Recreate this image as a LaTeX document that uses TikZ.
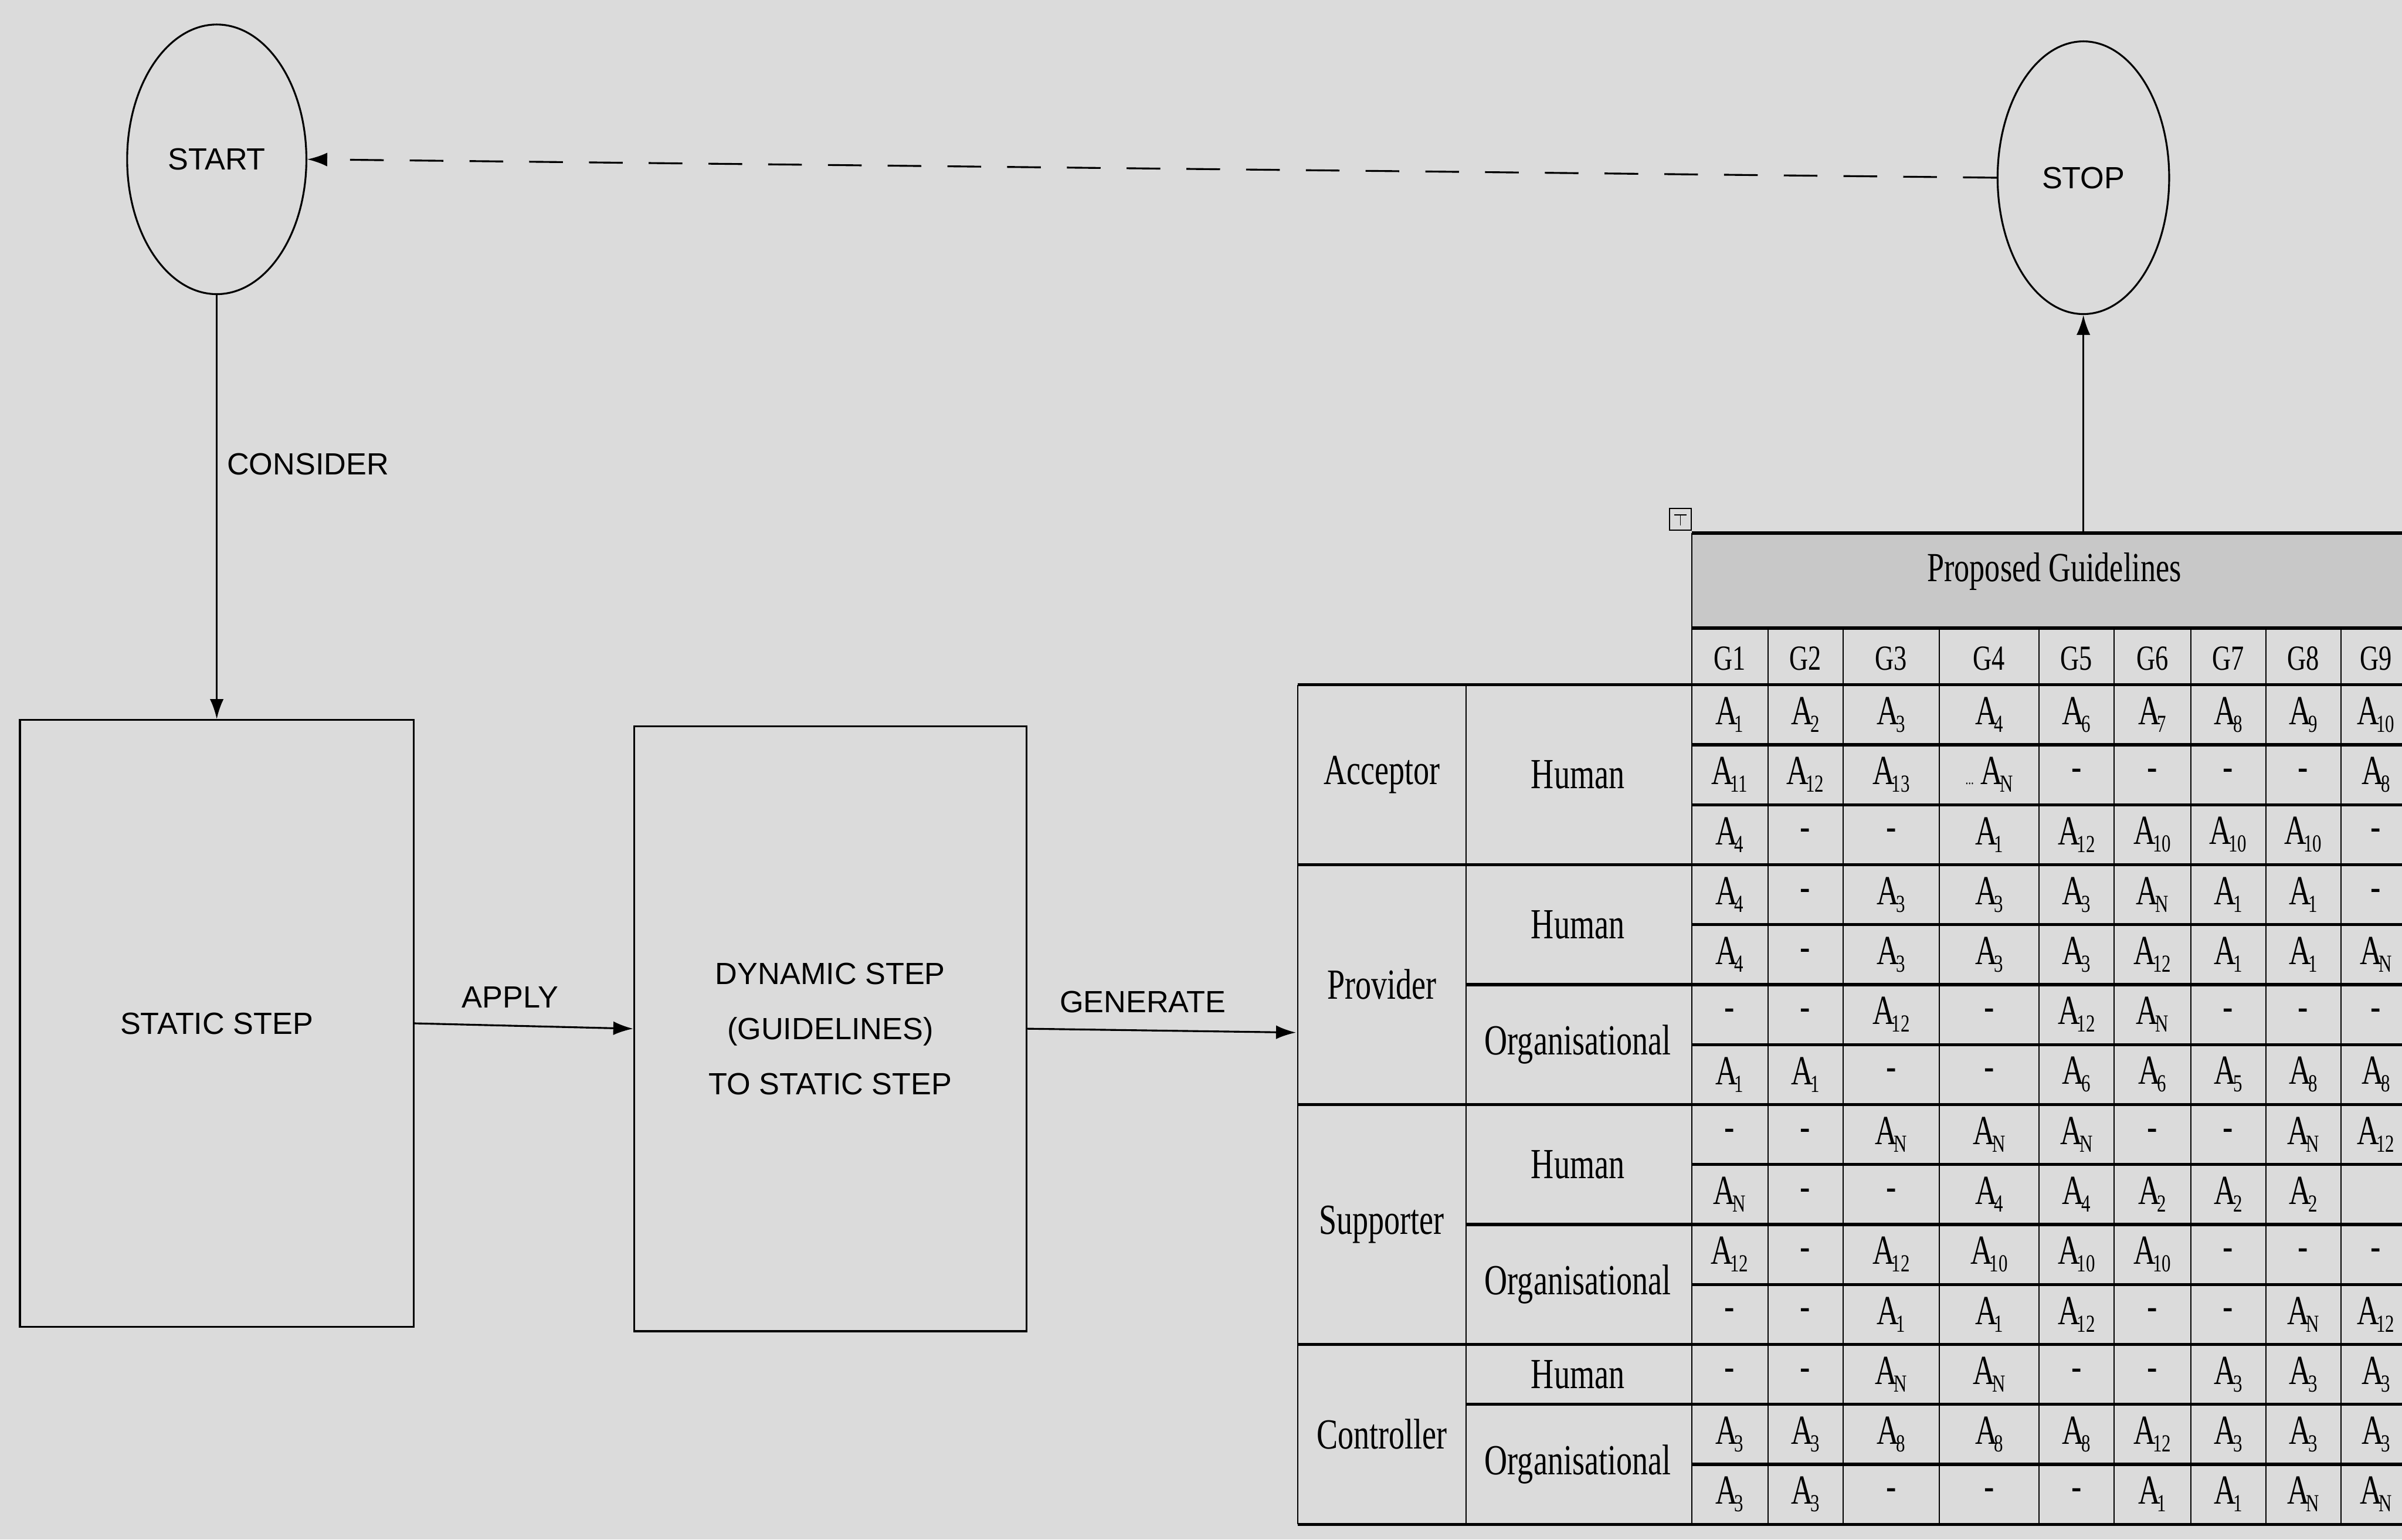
\documentclass[tikz,border=0pt]{standalone}
\usepackage{fontspec}
\setmainfont{Liberation Sans}
\newfontfamily\tabfont[FakeStretch=0.74]{Liberation Serif}
\usetikzlibrary{arrows.meta,shapes.geometric}
\definecolor{bgc}{RGB}{219,219,219}
\definecolor{hdrc}{RGB}{200,200,200}
\newcommand\Ax[1]{A\kern-2pt\raisebox{-5pt}{\fontsize{16}{16}\selectfont #1}}
\newcommand\Adots{{\fontsize{10}{10}\selectfont...}\,\Ax{N}}
\newcommand\colx[1]{\ifcase#1\or1129\or1178.5\or1234.5\or1298.5\or1355.5\or1405\or1454.5\or1503.5\or1551\fi}
\begin{document}
\begin{tikzpicture}[x=1pt,y=-1pt,
  lbl/.style={font=\fontsize{20}{24}\selectfont, inner sep=0pt},
  term/.style={ellipse, draw, line width=1.2pt, inner sep=0pt, font=\fontsize{20}{24}\selectfont},
  stepbox/.style={rectangle, draw, line width=1.3pt, inner sep=0pt},
  arr/.style={line width=1.2pt, -{Latex[length=13pt,width=9pt]}},
  hline/.style={line width=2pt},
  vline/.style={line width=0.8pt},
  role/.style={inner sep=0pt, font=\tabfont\fontsize{28}{30}\selectfont},
  ghead/.style={inner sep=0pt, font=\tabfont\fontsize{23}{25}\selectfont},
  cellt/.style={inner sep=0pt, font=\tabfont\fontsize{27}{27}\selectfont},
]
\fill[bgc] (0,0) rectangle (1568,1005);
\useasboundingbox (0,0) rectangle (1568,1005);

% flow nodes
\node[term, minimum width=117pt, minimum height=176pt] (start) at (141.5,104) {START};
\node[term, minimum width=112pt, minimum height=178pt] (stop) at (1360,116) {STOP};
\node[stepbox, minimum width=257pt, minimum height=396pt, font=\fontsize{20}{24}\selectfont] (static) at (141.5,668) {STATIC STEP};
\node[stepbox, minimum width=256pt, minimum height=395pt, align=center, font=\fontsize{20}{36}\selectfont] (dynamic) at (542,671.5) {DYNAMIC STEP\\(GUIDELINES)\\TO STATIC STEP};

\coordinate (tblw) at (846,674);
\coordinate (tblt) at (1360,348);

% connectors
\draw[arr] (start.south) -- (static.north);
\draw[arr] (static.east) -- (dynamic.west);
\draw[arr] (dynamic.east) -- (tblw);
\draw[arr] (tblt) -- (stop.south);
\draw[line width=1.2pt, dash pattern=on 22pt off 17pt, -{Latex[length=13pt,width=9pt]}] (stop.west) -- (start.east);

% labels
\node[lbl, anchor=west] (lconsider) at (148,303) {CONSIDER};
\node[lbl] (lapply) at (333,651) {APPLY};
\node[lbl] (lgenerate) at (746,654) {GENERATE};

% table: header
\fill[hdrc] (1104.5,348) rectangle (1568,410);
\draw[hline] (1104.5,348) -- (1568,348);
\draw[hline] (1104.5,410) -- (1568,410);
\node[inner sep=0pt, font=\tabfont\fontsize{27}{29}\selectfont] (hdr) at (1341,373) {Proposed Guidelines};
\draw[line width=0.8pt] (1090,332) rectangle (1104,346);
\draw[line width=0.6pt] (1093,336) -- (1101,336) (1097,336) -- (1097,343);

% grid horizontal lines
\foreach \k in {0,3,7,11,14} \draw[hline] (847,{447+39.143*\k}) -- (1568,{447+39.143*\k});
\foreach \k in {5,9,12} \draw[hline] (957,{447+39.143*\k}) -- (1568,{447+39.143*\k});
\foreach \k in {1,2,4,6,8,10,13} \draw[hline] (1104.5,{447+39.143*\k}) -- (1568,{447+39.143*\k});
% grid vertical lines
\draw[vline] (847,447) -- (847,995);
\draw[vline] (957,447) -- (957,995);
\draw[vline] (1104.5,348) -- (1104.5,995);
\foreach \x in {1154,1203,1266,1331,1380,1430,1479,1528} \draw[vline] (\x,410) -- (\x,995);

% column heads
\foreach \g in {1,...,9} {
  \edef\cx{\colx{\g}}
  \node[ghead] (g\g) at (\cx,430) {G\g};
}

% role labels
\node[role] (acc) at (902,505.7) {Acceptor};
\node[role] (prov) at (902,642.7) {Provider};
\node[role] (supp) at (902,799.3) {Supporter};
\node[role] (ctrl) at (902,936) {Controller};
\node[role] (acch) at (1030,505.7) {Human};
\node[role] (provh) at (1030,603.6) {Human};
\node[role] (provo) at (1030,681.9) {Organisational};
\node[role] (supph) at (1030,760.1) {Human};
\node[role] (suppo) at (1030,838.4) {Organisational};
\node[role] (ctrlh) at (1030,897.1) {Human};
\node[role] (ctrlo) at (1030,955.9) {Organisational};

% cells
\foreach \rowdata [count=\ri from 0] in {
  {\Ax1,\Ax2,\Ax3,\Ax4,\Ax6,\Ax7,\Ax8,\Ax9,\Ax{10}},
  {\Ax{11},\Ax{12},\Ax{13},\Adots,-,-,-,-,\Ax8},
  {\Ax4,-,-,\Ax1,\Ax{12},\Ax{10},\Ax{10},\Ax{10},-},
  {\Ax4,-,\Ax3,\Ax3,\Ax3,\Ax{N},\Ax1,\Ax1,-},
  {\Ax4,-,\Ax3,\Ax3,\Ax3,\Ax{12},\Ax1,\Ax1,\Ax{N}},
  {-,-,\Ax{12},-,\Ax{12},\Ax{N},-,-,-},
  {\Ax1,\Ax1,-,-,\Ax6,\Ax6,\Ax5,\Ax8,\Ax8},
  {-,-,\Ax{N},\Ax{N},\Ax{N},-,-,\Ax{N},\Ax{12}},
  {\Ax{N},-,-,\Ax4,\Ax4,\Ax2,\Ax2,\Ax2,{}},
  {\Ax{12},-,\Ax{12},\Ax{10},\Ax{10},\Ax{10},-,-,-},
  {-,-,\Ax1,\Ax1,\Ax{12},-,-,\Ax{N},\Ax{12}},
  {-,-,\Ax{N},\Ax{N},-,-,\Ax3,\Ax3,\Ax3},
  {\Ax3,\Ax3,\Ax8,\Ax8,\Ax8,\Ax{12},\Ax3,\Ax3,\Ax3},
  {\Ax3,\Ax3,-,-,-,\Ax1,\Ax1,\Ax{N},\Ax{N}}} {
  \foreach \cell [count=\ci] in \rowdata {
    \edef\cx{\colx{\ci}}
    \node[cellt] (c\ri-\ci) at (\cx,{447+39.143*(\ri+0.5)}) {\cell};
  }
}
\end{tikzpicture}
\end{document}
